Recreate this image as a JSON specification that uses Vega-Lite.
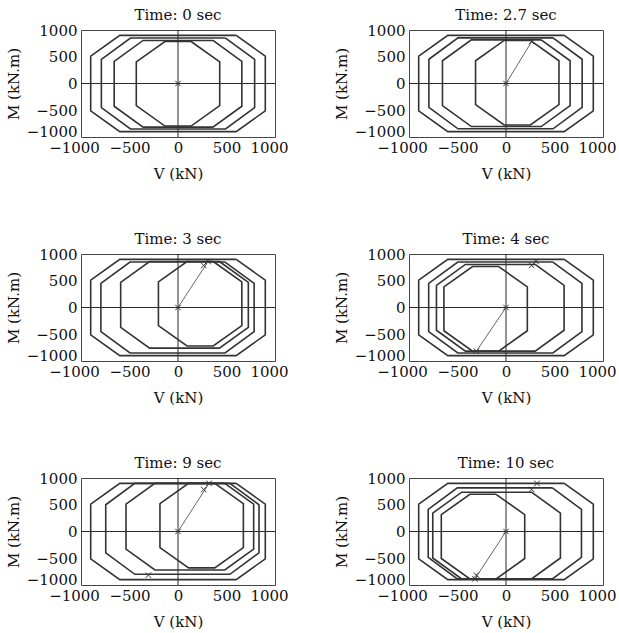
{
"$schema": "https://vega.github.io/schema/vega-lite/v6.json",
"background": "white",
"padding": {"left": 5, "top": 7, "right": 5, "bottom": 5},
"data": {"values": [
{"t":"0","k":"a","s":"h","i":0,"V":-1000,"M":0},{"t":"0","k":"a","s":"h","i":1,"V":1000,"M":0},{"t":"0","k":"a","s":"v","i":0,"V":0,"M":-1000},{"t":"0","k":"a","s":"v","i":1,"V":0,"M":1000},
{"t":"0","k":"o","s":"1","i":0,"V":600,"M":900},{"t":"0","k":"o","s":"1","i":1,"V":900,"M":510},{"t":"0","k":"o","s":"1","i":2,"V":900,"M":-510},{"t":"0","k":"o","s":"1","i":3,"V":600,"M":-900},{"t":"0","k":"o","s":"1","i":4,"V":-600,"M":-900},{"t":"0","k":"o","s":"1","i":5,"V":-900,"M":-510},{"t":"0","k":"o","s":"1","i":6,"V":-900,"M":510},{"t":"0","k":"o","s":"1","i":7,"V":-600,"M":900},{"t":"0","k":"o","s":"1","i":8,"V":600,"M":900},
{"t":"0","k":"o","s":"2","i":0,"V":490,"M":850},{"t":"0","k":"o","s":"2","i":1,"V":790,"M":450},{"t":"0","k":"o","s":"2","i":2,"V":790,"M":-450},{"t":"0","k":"o","s":"2","i":3,"V":490,"M":-850},{"t":"0","k":"o","s":"2","i":4,"V":-490,"M":-850},{"t":"0","k":"o","s":"2","i":5,"V":-790,"M":-450},{"t":"0","k":"o","s":"2","i":6,"V":-790,"M":450},{"t":"0","k":"o","s":"2","i":7,"V":-490,"M":850},{"t":"0","k":"o","s":"2","i":8,"V":490,"M":850},
{"t":"0","k":"o","s":"3","i":0,"V":360,"M":805},{"t":"0","k":"o","s":"3","i":1,"V":658,"M":415},{"t":"0","k":"o","s":"3","i":2,"V":658,"M":-425},{"t":"0","k":"o","s":"3","i":3,"V":360,"M":-815},{"t":"0","k":"o","s":"3","i":4,"V":-360,"M":-815},{"t":"0","k":"o","s":"3","i":5,"V":-658,"M":-425},{"t":"0","k":"o","s":"3","i":6,"V":-658,"M":415},{"t":"0","k":"o","s":"3","i":7,"V":-360,"M":805},{"t":"0","k":"o","s":"3","i":8,"V":360,"M":805},
{"t":"0","k":"o","s":"4","i":0,"V":135,"M":785},{"t":"0","k":"o","s":"4","i":1,"V":430,"M":405},{"t":"0","k":"o","s":"4","i":2,"V":430,"M":-415},{"t":"0","k":"o","s":"4","i":3,"V":135,"M":-795},{"t":"0","k":"o","s":"4","i":4,"V":-135,"M":-795},{"t":"0","k":"o","s":"4","i":5,"V":-430,"M":-415},{"t":"0","k":"o","s":"4","i":6,"V":-430,"M":405},{"t":"0","k":"o","s":"4","i":7,"V":-135,"M":785},{"t":"0","k":"o","s":"4","i":8,"V":135,"M":785},
{"t":"0","k":"x","s":"x","i":0,"V":0,"M":0},

{"t":"2.7","k":"a","s":"h","i":0,"V":-1000,"M":0},{"t":"2.7","k":"a","s":"h","i":1,"V":1000,"M":0},{"t":"2.7","k":"a","s":"v","i":0,"V":0,"M":-1000},{"t":"2.7","k":"a","s":"v","i":1,"V":0,"M":1000},
{"t":"2.7","k":"o","s":"1","i":0,"V":600,"M":900},{"t":"2.7","k":"o","s":"1","i":1,"V":900,"M":510},{"t":"2.7","k":"o","s":"1","i":2,"V":900,"M":-510},{"t":"2.7","k":"o","s":"1","i":3,"V":600,"M":-900},{"t":"2.7","k":"o","s":"1","i":4,"V":-600,"M":-900},{"t":"2.7","k":"o","s":"1","i":5,"V":-900,"M":-510},{"t":"2.7","k":"o","s":"1","i":6,"V":-900,"M":510},{"t":"2.7","k":"o","s":"1","i":7,"V":-600,"M":900},{"t":"2.7","k":"o","s":"1","i":8,"V":600,"M":900},
{"t":"2.7","k":"o","s":"2","i":0,"V":485,"M":853},{"t":"2.7","k":"o","s":"2","i":1,"V":785,"M":453},{"t":"2.7","k":"o","s":"2","i":2,"V":785,"M":-447},{"t":"2.7","k":"o","s":"2","i":3,"V":485,"M":-847},{"t":"2.7","k":"o","s":"2","i":4,"V":-495,"M":-847},{"t":"2.7","k":"o","s":"2","i":5,"V":-795,"M":-447},{"t":"2.7","k":"o","s":"2","i":6,"V":-795,"M":453},{"t":"2.7","k":"o","s":"2","i":7,"V":-495,"M":853},{"t":"2.7","k":"o","s":"2","i":8,"V":485,"M":853},
{"t":"2.7","k":"o","s":"3","i":0,"V":363,"M":815},{"t":"2.7","k":"o","s":"3","i":1,"V":661,"M":425},{"t":"2.7","k":"o","s":"3","i":2,"V":661,"M":-415},{"t":"2.7","k":"o","s":"3","i":3,"V":363,"M":-805},{"t":"2.7","k":"o","s":"3","i":4,"V":-357,"M":-805},{"t":"2.7","k":"o","s":"3","i":5,"V":-655,"M":-415},{"t":"2.7","k":"o","s":"3","i":6,"V":-655,"M":425},{"t":"2.7","k":"o","s":"3","i":7,"V":-357,"M":815},{"t":"2.7","k":"o","s":"3","i":8,"V":363,"M":815},
{"t":"2.7","k":"o","s":"4","i":0,"V":251,"M":805},{"t":"2.7","k":"o","s":"4","i":1,"V":546,"M":425},{"t":"2.7","k":"o","s":"4","i":2,"V":546,"M":-395},{"t":"2.7","k":"o","s":"4","i":3,"V":251,"M":-775},{"t":"2.7","k":"o","s":"4","i":4,"V":-19,"M":-775},{"t":"2.7","k":"o","s":"4","i":5,"V":-314,"M":-395},{"t":"2.7","k":"o","s":"4","i":6,"V":-314,"M":425},{"t":"2.7","k":"o","s":"4","i":7,"V":-19,"M":805},{"t":"2.7","k":"o","s":"4","i":8,"V":251,"M":805},
{"t":"2.7","k":"l","s":"l","i":0,"V":0,"M":0},{"t":"2.7","k":"l","s":"l","i":1,"V":265,"M":785},
{"t":"2.7","k":"x","s":"x","i":0,"V":0,"M":0},{"t":"2.7","k":"x","s":"x","i":1,"V":265,"M":785},

{"t":"3","k":"a","s":"h","i":0,"V":-1000,"M":0},{"t":"3","k":"a","s":"h","i":1,"V":1000,"M":0},{"t":"3","k":"a","s":"v","i":0,"V":0,"M":-1000},{"t":"3","k":"a","s":"v","i":1,"V":0,"M":1000},
{"t":"3","k":"o","s":"1","i":0,"V":600,"M":900},{"t":"3","k":"o","s":"1","i":1,"V":900,"M":510},{"t":"3","k":"o","s":"1","i":2,"V":900,"M":-510},{"t":"3","k":"o","s":"1","i":3,"V":600,"M":-900},{"t":"3","k":"o","s":"1","i":4,"V":-600,"M":-900},{"t":"3","k":"o","s":"1","i":5,"V":-900,"M":-510},{"t":"3","k":"o","s":"1","i":6,"V":-900,"M":510},{"t":"3","k":"o","s":"1","i":7,"V":-600,"M":900},{"t":"3","k":"o","s":"1","i":8,"V":600,"M":900},
{"t":"3","k":"o","s":"2","i":0,"V":485,"M":850},{"t":"3","k":"o","s":"2","i":1,"V":785,"M":450},{"t":"3","k":"o","s":"2","i":2,"V":785,"M":-450},{"t":"3","k":"o","s":"2","i":3,"V":485,"M":-850},{"t":"3","k":"o","s":"2","i":4,"V":-495,"M":-850},{"t":"3","k":"o","s":"2","i":5,"V":-795,"M":-450},{"t":"3","k":"o","s":"2","i":6,"V":-795,"M":450},{"t":"3","k":"o","s":"2","i":7,"V":-495,"M":850},{"t":"3","k":"o","s":"2","i":8,"V":485,"M":850},
{"t":"3","k":"o","s":"3","i":0,"V":427,"M":860},{"t":"3","k":"o","s":"3","i":1,"V":725,"M":470},{"t":"3","k":"o","s":"3","i":2,"V":725,"M":-370},{"t":"3","k":"o","s":"3","i":3,"V":427,"M":-760},{"t":"3","k":"o","s":"3","i":4,"V":-293,"M":-760},{"t":"3","k":"o","s":"3","i":5,"V":-591,"M":-370},{"t":"3","k":"o","s":"3","i":6,"V":-591,"M":470},{"t":"3","k":"o","s":"3","i":7,"V":-293,"M":860},{"t":"3","k":"o","s":"3","i":8,"V":427,"M":860},
{"t":"3","k":"o","s":"4","i":0,"V":363,"M":860},{"t":"3","k":"o","s":"4","i":1,"V":658,"M":480},{"t":"3","k":"o","s":"4","i":2,"V":658,"M":-340},{"t":"3","k":"o","s":"4","i":3,"V":363,"M":-720},{"t":"3","k":"o","s":"4","i":4,"V":93,"M":-720},{"t":"3","k":"o","s":"4","i":5,"V":-202,"M":-340},{"t":"3","k":"o","s":"4","i":6,"V":-202,"M":480},{"t":"3","k":"o","s":"4","i":7,"V":93,"M":860},{"t":"3","k":"o","s":"4","i":8,"V":363,"M":860},
{"t":"3","k":"l","s":"l","i":0,"V":0,"M":0},{"t":"3","k":"l","s":"l","i":1,"V":310,"M":860},
{"t":"3","k":"x","s":"x","i":0,"V":0,"M":0},{"t":"3","k":"x","s":"x","i":1,"V":310,"M":860},{"t":"3","k":"x","s":"x","i":2,"V":265,"M":785},

{"t":"4","k":"a","s":"h","i":0,"V":-1000,"M":0},{"t":"4","k":"a","s":"h","i":1,"V":1000,"M":0},{"t":"4","k":"a","s":"v","i":0,"V":0,"M":-1000},{"t":"4","k":"a","s":"v","i":1,"V":0,"M":1000},
{"t":"4","k":"o","s":"1","i":0,"V":600,"M":900},{"t":"4","k":"o","s":"1","i":1,"V":900,"M":510},{"t":"4","k":"o","s":"1","i":2,"V":900,"M":-510},{"t":"4","k":"o","s":"1","i":3,"V":600,"M":-900},{"t":"4","k":"o","s":"1","i":4,"V":-600,"M":-900},{"t":"4","k":"o","s":"1","i":5,"V":-900,"M":-510},{"t":"4","k":"o","s":"1","i":6,"V":-900,"M":510},{"t":"4","k":"o","s":"1","i":7,"V":-600,"M":900},{"t":"4","k":"o","s":"1","i":8,"V":600,"M":900},
{"t":"4","k":"o","s":"2","i":0,"V":483,"M":850},{"t":"4","k":"o","s":"2","i":1,"V":783,"M":450},{"t":"4","k":"o","s":"2","i":2,"V":783,"M":-450},{"t":"4","k":"o","s":"2","i":3,"V":483,"M":-850},{"t":"4","k":"o","s":"2","i":4,"V":-497,"M":-850},{"t":"4","k":"o","s":"2","i":5,"V":-797,"M":-450},{"t":"4","k":"o","s":"2","i":6,"V":-797,"M":450},{"t":"4","k":"o","s":"2","i":7,"V":-497,"M":850},{"t":"4","k":"o","s":"2","i":8,"V":483,"M":850},
{"t":"4","k":"o","s":"3","i":0,"V":301,"M":805},{"t":"4","k":"o","s":"3","i":1,"V":599,"M":415},{"t":"4","k":"o","s":"3","i":2,"V":599,"M":-425},{"t":"4","k":"o","s":"3","i":3,"V":301,"M":-815},{"t":"4","k":"o","s":"3","i":4,"V":-419,"M":-815},{"t":"4","k":"o","s":"3","i":5,"V":-717,"M":-425},{"t":"4","k":"o","s":"3","i":6,"V":-717,"M":415},{"t":"4","k":"o","s":"3","i":7,"V":-419,"M":805},{"t":"4","k":"o","s":"3","i":8,"V":301,"M":805},
{"t":"4","k":"o","s":"4","i":0,"V":-75,"M":765},{"t":"4","k":"o","s":"4","i":1,"V":220,"M":385},{"t":"4","k":"o","s":"4","i":2,"V":220,"M":-435},{"t":"4","k":"o","s":"4","i":3,"V":-75,"M":-815},{"t":"4","k":"o","s":"4","i":4,"V":-345,"M":-815},{"t":"4","k":"o","s":"4","i":5,"V":-640,"M":-435},{"t":"4","k":"o","s":"4","i":6,"V":-640,"M":385},{"t":"4","k":"o","s":"4","i":7,"V":-345,"M":765},{"t":"4","k":"o","s":"4","i":8,"V":-75,"M":765},
{"t":"4","k":"l","s":"l","i":0,"V":0,"M":0},{"t":"4","k":"l","s":"l","i":1,"V":-305,"M":-815},
{"t":"4","k":"x","s":"x","i":0,"V":0,"M":0},{"t":"4","k":"x","s":"x","i":1,"V":-305,"M":-815},{"t":"4","k":"x","s":"x","i":2,"V":265,"M":785},{"t":"4","k":"x","s":"x","i":3,"V":310,"M":860},

{"t":"9","k":"a","s":"h","i":0,"V":-1000,"M":0},{"t":"9","k":"a","s":"h","i":1,"V":1000,"M":0},{"t":"9","k":"a","s":"v","i":0,"V":0,"M":-1000},{"t":"9","k":"a","s":"v","i":1,"V":0,"M":1000},
{"t":"9","k":"o","s":"1","i":0,"V":600,"M":900},{"t":"9","k":"o","s":"1","i":1,"V":900,"M":510},{"t":"9","k":"o","s":"1","i":2,"V":900,"M":-510},{"t":"9","k":"o","s":"1","i":3,"V":600,"M":-900},{"t":"9","k":"o","s":"1","i":4,"V":-600,"M":-900},{"t":"9","k":"o","s":"1","i":5,"V":-900,"M":-510},{"t":"9","k":"o","s":"1","i":6,"V":-900,"M":510},{"t":"9","k":"o","s":"1","i":7,"V":-600,"M":900},{"t":"9","k":"o","s":"1","i":8,"V":600,"M":900},
{"t":"9","k":"o","s":"2","i":0,"V":535,"M":900},{"t":"9","k":"o","s":"2","i":1,"V":835,"M":500},{"t":"9","k":"o","s":"2","i":2,"V":835,"M":-400},{"t":"9","k":"o","s":"2","i":3,"V":535,"M":-800},{"t":"9","k":"o","s":"2","i":4,"V":-445,"M":-800},{"t":"9","k":"o","s":"2","i":5,"V":-745,"M":-400},{"t":"9","k":"o","s":"2","i":6,"V":-745,"M":500},{"t":"9","k":"o","s":"2","i":7,"V":-445,"M":900},{"t":"9","k":"o","s":"2","i":8,"V":535,"M":900},
{"t":"9","k":"o","s":"3","i":0,"V":482,"M":900},{"t":"9","k":"o","s":"3","i":1,"V":780,"M":510},{"t":"9","k":"o","s":"3","i":2,"V":780,"M":-330},{"t":"9","k":"o","s":"3","i":3,"V":482,"M":-720},{"t":"9","k":"o","s":"3","i":4,"V":-238,"M":-720},{"t":"9","k":"o","s":"3","i":5,"V":-536,"M":-330},{"t":"9","k":"o","s":"3","i":6,"V":-536,"M":510},{"t":"9","k":"o","s":"3","i":7,"V":-238,"M":900},{"t":"9","k":"o","s":"3","i":8,"V":482,"M":900},
{"t":"9","k":"o","s":"4","i":0,"V":379,"M":900},{"t":"9","k":"o","s":"4","i":1,"V":674,"M":520},{"t":"9","k":"o","s":"4","i":2,"V":674,"M":-300},{"t":"9","k":"o","s":"4","i":3,"V":379,"M":-680},{"t":"9","k":"o","s":"4","i":4,"V":109,"M":-680},{"t":"9","k":"o","s":"4","i":5,"V":-186,"M":-300},{"t":"9","k":"o","s":"4","i":6,"V":-186,"M":520},{"t":"9","k":"o","s":"4","i":7,"V":109,"M":900},{"t":"9","k":"o","s":"4","i":8,"V":379,"M":900},
{"t":"9","k":"l","s":"l","i":0,"V":0,"M":0},{"t":"9","k":"l","s":"l","i":1,"V":320,"M":900},
{"t":"9","k":"x","s":"x","i":0,"V":0,"M":0},{"t":"9","k":"x","s":"x","i":1,"V":320,"M":900},{"t":"9","k":"x","s":"x","i":2,"V":265,"M":785},{"t":"9","k":"x","s":"x","i":3,"V":-305,"M":-815},

{"t":"10","k":"a","s":"h","i":0,"V":-1000,"M":0},{"t":"10","k":"a","s":"h","i":1,"V":1000,"M":0},{"t":"10","k":"a","s":"v","i":0,"V":0,"M":-1000},{"t":"10","k":"a","s":"v","i":1,"V":0,"M":1000},
{"t":"10","k":"o","s":"1","i":0,"V":600,"M":900},{"t":"10","k":"o","s":"1","i":1,"V":900,"M":510},{"t":"10","k":"o","s":"1","i":2,"V":900,"M":-510},{"t":"10","k":"o","s":"1","i":3,"V":600,"M":-900},{"t":"10","k":"o","s":"1","i":4,"V":-600,"M":-900},{"t":"10","k":"o","s":"1","i":5,"V":-900,"M":-510},{"t":"10","k":"o","s":"1","i":6,"V":-900,"M":510},{"t":"10","k":"o","s":"1","i":7,"V":-600,"M":900},{"t":"10","k":"o","s":"1","i":8,"V":600,"M":900},
{"t":"10","k":"o","s":"2","i":0,"V":478,"M":815},{"t":"10","k":"o","s":"2","i":1,"V":778,"M":415},{"t":"10","k":"o","s":"2","i":2,"V":778,"M":-485},{"t":"10","k":"o","s":"2","i":3,"V":478,"M":-885},{"t":"10","k":"o","s":"2","i":4,"V":-502,"M":-885},{"t":"10","k":"o","s":"2","i":5,"V":-802,"M":-485},{"t":"10","k":"o","s":"2","i":6,"V":-802,"M":415},{"t":"10","k":"o","s":"2","i":7,"V":-502,"M":815},{"t":"10","k":"o","s":"2","i":8,"V":478,"M":815},
{"t":"10","k":"o","s":"3","i":0,"V":263,"M":735},{"t":"10","k":"o","s":"3","i":1,"V":561,"M":345},{"t":"10","k":"o","s":"3","i":2,"V":561,"M":-495},{"t":"10","k":"o","s":"3","i":3,"V":263,"M":-885},{"t":"10","k":"o","s":"3","i":4,"V":-457,"M":-885},{"t":"10","k":"o","s":"3","i":5,"V":-755,"M":-495},{"t":"10","k":"o","s":"3","i":6,"V":-755,"M":345},{"t":"10","k":"o","s":"3","i":7,"V":-457,"M":735},{"t":"10","k":"o","s":"3","i":8,"V":263,"M":735},
{"t":"10","k":"o","s":"4","i":0,"V":-102,"M":695},{"t":"10","k":"o","s":"4","i":1,"V":193,"M":315},{"t":"10","k":"o","s":"4","i":2,"V":193,"M":-505},{"t":"10","k":"o","s":"4","i":3,"V":-102,"M":-885},{"t":"10","k":"o","s":"4","i":4,"V":-372,"M":-885},{"t":"10","k":"o","s":"4","i":5,"V":-667,"M":-505},{"t":"10","k":"o","s":"4","i":6,"V":-667,"M":315},{"t":"10","k":"o","s":"4","i":7,"V":-372,"M":695},{"t":"10","k":"o","s":"4","i":8,"V":-102,"M":695},
{"t":"10","k":"l","s":"l","i":0,"V":0,"M":0},{"t":"10","k":"l","s":"l","i":1,"V":-320,"M":-885},
{"t":"10","k":"x","s":"x","i":0,"V":0,"M":0},{"t":"10","k":"x","s":"x","i":1,"V":-320,"M":-885},{"t":"10","k":"x","s":"x","i":2,"V":265,"M":785},{"t":"10","k":"x","s":"x","i":3,"V":320,"M":900},{"t":"10","k":"x","s":"x","i":4,"V":-305,"M":-815}
]},
"facet": {"field": "t", "type": "ordinal", "title": null, "sort": ["0","2.7","3","4","9","10"],
  "header": {"title": null, "labelExpr": "'Time: ' + datum.value + ' sec'", "labelFont": "DejaVu Serif", "labelFontSize": 15, "labelColor": "#111", "labelPadding": 0}},
"columns": 2,
"spacing": {"row": 49, "column": 44},
"resolve": {"axis": {"x": "independent", "y": "independent"}},
"spec": {
  "width": 194,
  "height": 107,
  "encoding": {
    "x": {"field": "V", "type": "quantitative", "title": "V (kN)", "scale": {"domain": [-1000, 1000], "nice": false, "zero": false},
      "axis": {"values": [-1000, -500, 0, 500, 1000], "format": "d", "labelPadding": 3, "titlePadding": 11,
        "labelOffset": {"condition": [{"test": "datum.value === -1000", "value": -7}, {"test": "datum.value === 1000", "value": -6}], "value": 0}}},
    "y": {"field": "M", "type": "quantitative", "title": "M (kN.m)", "scale": {"domain": [-1000, 1000], "nice": false, "zero": false},
      "axis": {"values": [-1000, -500, 0, 500, 1000], "format": "d", "labelPadding": 4, "titlePadding": 5,
        "labelOffset": {"condition": {"test": "datum.value === -1000", "value": -6}, "value": 0}}},
    "detail": {"field": "s", "type": "nominal"},
    "order": {"field": "i", "type": "quantitative"}
  },
  "layer": [
    {"transform": [{"filter": "datum.k == 'a'"}], "mark": {"type": "line", "stroke": "#111", "strokeWidth": 0.9}},
    {"transform": [{"filter": "datum.k == 'o'"}], "mark": {"type": "line", "stroke": "#333", "strokeWidth": 1.6}},
    {"transform": [{"filter": "datum.k == 'l'"}], "mark": {"type": "line", "stroke": "#666", "strokeWidth": 1}},
    {"transform": [{"filter": "datum.k == 'x'"}], "mark": {"type": "point", "shape": "M-1,-1L1,1M1,-1L-1,1", "size": 30, "filled": false, "stroke": "#333", "strokeWidth": 1, "opacity": 1}}
  ]
},
"config": {
  "view": {"stroke": "#444", "strokeWidth": 1},
  "axis": {"domain": false, "ticks": false, "grid": false, "labelFont": "DejaVu Serif", "labelFontSize": 15, "labelColor": "#111", "labelOverlap": false, "labelFlush": false, "labelBound": false, "titleFont": "DejaVu Serif", "titleFontSize": 15, "titleFontWeight": "normal", "titleColor": "#111"}
}
}
